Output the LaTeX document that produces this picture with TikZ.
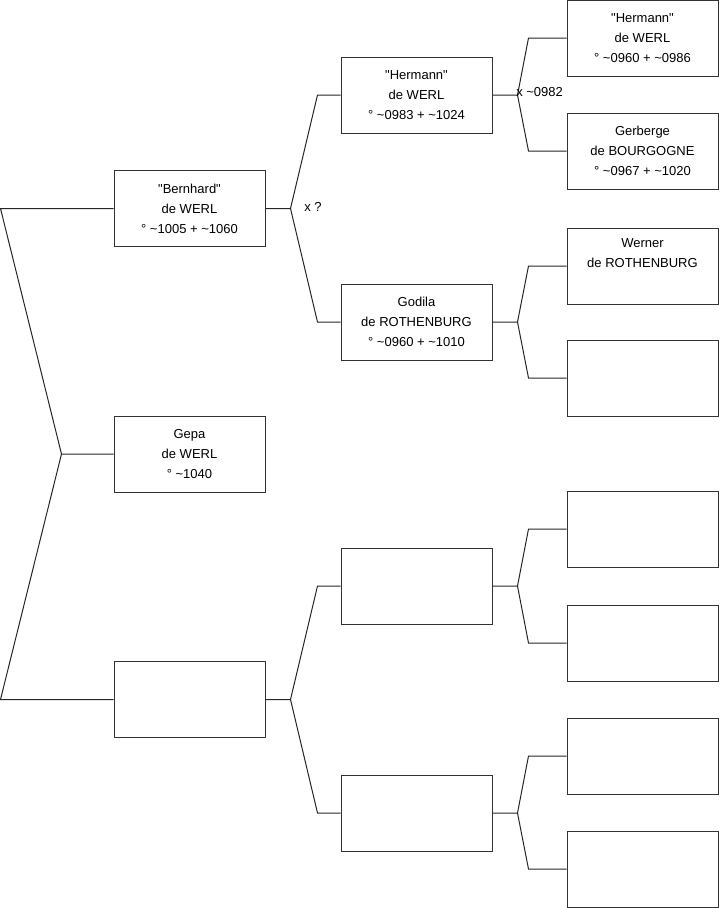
\documentclass[tikz,border=0pt]{standalone}
\usepackage{fontspec}
\setmainfont{Liberation Sans}
\usepackage{tikz}
\usetikzlibrary{positioning, calc}

\newcommand{\vers}{\textasciitilde}
\newcommand{\gm}{\textquotedbl}
\tikzset{
  pers/.style={draw=black!80, line width=0.75pt, minimum width=113.25pt, minimum height=57pt,
               inner sep=0pt, align=center, font=\fontsize{9.75}{15}\selectfont},
  lien/.style={draw=black!85, line width=0.75pt},
  mariage/.style={inner sep=0pt, anchor=west, font=\fontsize{9.75}{12}\selectfont}
}

\begin{document}
\begin{tikzpicture}[x=0.75pt, y=-0.75pt]
\useasboundingbox (0,0) rectangle (719,908);

% sujet
\node[pers] (p1) at (189.5,454) {Gepa\\de WERL\\° \vers1040};

% parents
\node[pers] (p2) at (189.5,208.5) {\gm Bernhard\gm\\de WERL\\° \vers1005 + \vers1060};
\node[pers] (p3) at (189.5,699.5) {};

% grands-parents
\node[pers] (p4) at (416.5,95) {\gm Hermann\gm\\de WERL\\° \vers0983 + \vers1024};
\node[pers] (p5) at (416.5,322) {Godila\\de ROTHENBURG\\° \vers0960 + \vers1010};
\node[pers] (p6) at (416.5,586) {};
\node[pers] (p7) at (416.5,813) {};

% arriere-grands-parents
\node[pers] (p8) at (642.5,38) {\gm Hermann\gm\\de WERL\\° \vers0960 + \vers0986};
\node[pers] (p9) at (642.5,151) {Gerberge\\de BOURGOGNE\\° \vers0967 + \vers1020};
\node[pers] (p10) at (642.5,266) {Werner\\de ROTHENBURG\\\strut};
\foreach \i/\y in {11/378, 12/529, 13/643, 14/756, 15/869}{
  \node[pers] (p\i) at (642.5,\y) {};
}

% liens
\draw[lien] (p1.west) -- ++(-52,0) coordinate (f1) -- ($(p2.west)+(-113,0)$) -- (p2.west);
\draw[lien] (f1) -- ($(p3.west)+(-113,0)$) -- (p3.west);
\foreach \c/\a/\b in {2/4/5, 3/6/7}{
  \draw[lien] (p\c.east) -- ++(25,0) coordinate (f\c) -- ($(p\a.west)+(-23,0)$) -- (p\a.west);
  \draw[lien] (f\c) -- ($(p\b.west)+(-23,0)$) -- (p\b.west);
}
\foreach \c/\a/\b in {4/8/9, 5/10/11, 6/12/13, 7/14/15}{
  \draw[lien] (p\c.east) -- ++(25,0) coordinate (f\c) -- ($(p\a.west)+(-38,0)$) -- (p\a.west);
  \draw[lien] (f\c) -- ($(p\b.west)+(-38,0)$) -- (p\b.west);
}

% unions
\node[mariage] (m2) at (304,207) {x ?};
\node[mariage] (m4) at (516,92) {x \vers0982};
\end{tikzpicture}
\end{document}
